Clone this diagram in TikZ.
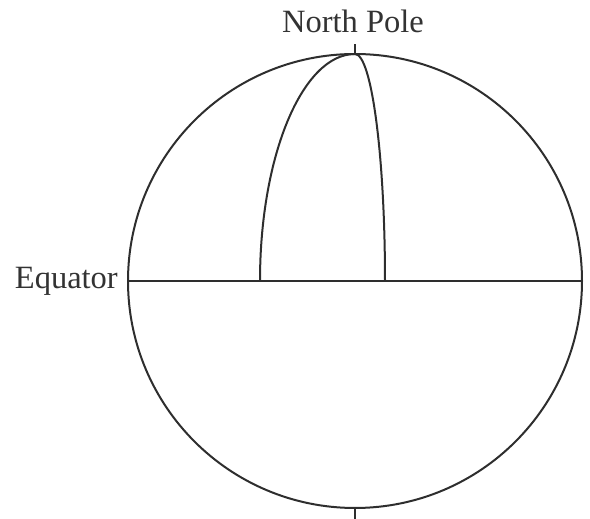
\documentclass[tikz,border=0pt]{standalone}
\usepackage{fontspec}
\setmainfont{Liberation Serif}
\begin{document}
\begin{tikzpicture}[x=1pt,y=1pt,
  line/.style={line width=2pt,draw=black!82},
  lbl/.style={inner sep=0pt,text=black!80,font=\fontsize{32.5}{36}\selectfont}]
\useasboundingbox (0,0) rectangle (590,519);
\coordinate (C) at (355,238);
\coordinate (N) at (355,465);
\coordinate (S) at (355,11);
\coordinate (W) at (128,238);
\coordinate (E) at (582,238);
\coordinate (Ntick) at (355,475);
\coordinate (Stick) at (355,0);
\coordinate (M1) at (260,238);
\coordinate (M2) at (385,238);
\draw[line] (C) circle[radius=227];
\draw[line] (W) -- (E);
\draw[line] (M1) arc[start angle=180,end angle=90,x radius=95,y radius=227];
\draw[line] (M2) arc[start angle=0,end angle=90,x radius=30,y radius=227];
\draw[line] (N) -- (Ntick);
\draw[line] (S) -- (Stick);
\node[lbl,anchor=base] (np) at (353,486) {North Pole};
\node[lbl,anchor=base east] (eq) at (118,230) {Equator};
\end{tikzpicture}
\end{document}
